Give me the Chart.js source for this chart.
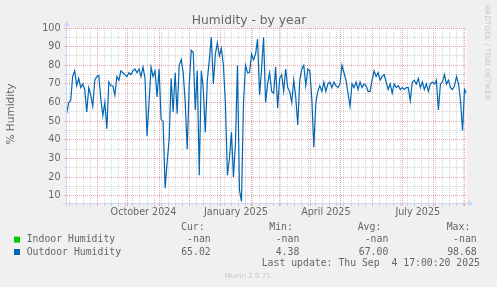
<!DOCTYPE html>
<html><head><meta charset="utf-8">
<script src="https://cdn.jsdelivr.net/npm/chart.js@4/dist/chart.umd.min.js"></script>
<style>html,body{margin:0;padding:0;background:#F0F0F0;overflow:hidden}canvas{display:block}</style>
</head><body>
<canvas id="c" width="497" height="287"></canvas>
<script>
// ---------- data ----------
const chartTitle = 'Humidity - by year';
const yAxisTitle = '% Humidity';
const seriesNames = ['Indoor Humidity', 'Outdoor Humidity'];
const seriesColors = ['#00CC00', '#0066B3'];
const firstSample = [2024, 7, 1];          // Aug 1 2024 (UTC, month 0-based)
const sampleStepDays = 2;
const indoor = [];                          // -nan: no data
const outdoor = [
54,60,61,74,77,69,73,68,70,67,55,68,64,58,72,74,74.5,62,53,60,
46,71,69,69,64,74,72,77,76,75,74,76,75,77,78,76,78,74,79,73,
42,60,79,74,77,63,78,51,50,14,28,40,73,55,76,54,80,83,76,60,
35,70,88,87,56,77,21,77,67,44,72,83,95,70,86,92,85,89,80,60,
21,30,44,20,38,80,13,7,60,80,76,76,86,83,86,94,64,78,95,60,
70,76,66,65,79,57,73,75,66,78,68,66,60,72,63,48,72,78,80,69,
78,77,62,36,60,66,69,66,71,66,70,71,68,71,69,68,70,80,76,72,
65,58,70,68,71,67,71,68,70,69,66,66,72,77,74,76,72,74,75,71,
67,70,65,70,68,69,67,68,67,68,68,61,71,72,70,73,68,71,67,70,
66,70,71,70,72,56,70,71,75,70,72,68,67,69,74,70,61,45,67,65
];
const yTickValues = [10,15,20,25,30,35,40,45,50,55,60,65,70,75,80,85,90,95,100];
const quarterLabels = ['October 2024', 'January 2025', 'April 2025', 'July 2025'];
const quarterMonths = [[2024, 9], [2025, 0], [2025, 3], [2025, 6]];
const legendHeaders = ['Cur:', 'Min:', 'Avg:', 'Max:'];
const indoorStats = ['-nan', '-nan', '-nan', '-nan'];
const outdoorStats = ['65.02', '4.38', '67.00', '98.68'];
const lastUpdate = 'Last update: Thu Sep  4 17:00:20 2025';
const footerText = 'Munin 2.0.75';
const sideText = 'RRDTOOL / TOBI OETIKER';

// ---------- time axis ----------
const DAY = 86400000;
const axisStart = Date.UTC(2024, 6, 31, 20, 24);
const axisSpanDays = 398.1;
const dayOf = t => (t - axisStart) / DAY;
const key = v => Math.round(v * 1000) / 1000;

const tickKinds = new Map();
function addTick(v, kind) {
  const k = key(v);
  if (k < 0 || k > axisSpanDays) return;
  if (!tickKinds.has(k) || kind === 'month') tickKinds.set(k, kind);
}
for (let y = 2024, m = 7; ; ) {
  const d = dayOf(Date.UTC(y, m, 1));
  if (d > axisSpanDays) break;
  addTick(d, 'month');
  m++; if (m > 11) { m = 0; y++; }
}
for (let t = Date.UTC(2024, 7, 4); dayOf(t) <= axisSpanDays; t += 7 * DAY) {
  if (!tickKinds.has(key(dayOf(t)))) addTick(dayOf(t), 'week');
}
quarterMonths.forEach(([y, m], i) => {
  const a = Date.UTC(y, m, 1), b = Date.UTC(y, m + 1, 1);
  addTick(dayOf((a + b) / 2), 'label:' + i);
});

const outdoorPoints = outdoor.map((v, i) => ({
  x: dayOf(Date.UTC(firstSample[0], firstSample[1], firstSample[2]) + i * sampleStepDays * DAY),
  y: v
}));

// ---------- styles ----------
const FONT_COL = '#666666';
const MGRID = 'rgba(222,79,79,0.5)';
const GRID = 'rgba(143,143,143,0.38)';
const AXIS_COL = '#CFD6F8';
const WATER = 'rgba(102,102,102,0.3)';
const PLOT = {left: 66.5, right: 466.5, top: 28, bottom: 203};
const X_AXIS_H = 20;

function xKindColor(v) {
  const k = tickKinds.get(v);
  if (k === 'month') return MGRID;
  if (k === 'week') return GRID;
  return 'rgba(0,0,0,0)';
}

Chart.defaults.font.family = 'DejaVu Sans';

const muninPlugin = {
  id: 'munin',
  beforeDraw(chart) {
    const c = chart.ctx, a = chart.chartArea;
    c.save();
    c.fillStyle = '#F0F0F0';
    c.fillRect(0, 0, chart.width, chart.height);
    c.fillStyle = '#FFFFFF';
    c.fillRect(a.left, a.top, a.right - a.left, a.bottom - a.top);
    c.restore();
  },
  afterDraw(chart) {
    const c = chart.ctx, a = chart.chartArea;
    c.save();
    // axes
    c.strokeStyle = AXIS_COL; c.lineWidth = 1;
    c.beginPath();
    c.moveTo(a.left - 4, a.bottom + 0.5); c.lineTo(a.right + 4, a.bottom + 0.5);
    c.moveTo(a.left, a.bottom + 4); c.lineTo(a.left, a.top - 4);
    c.stroke();
    c.fillStyle = AXIS_COL;
    c.beginPath();
    c.moveTo(a.right + 2, a.bottom + 0.5 - 3); c.lineTo(a.right + 2, a.bottom + 0.5 + 3); c.lineTo(a.right + 7, a.bottom + 0.5);
    c.closePath(); c.fill();
    c.beginPath();
    c.moveTo(a.left - 3, a.top - 2); c.lineTo(a.left + 3, a.top - 2); c.lineTo(a.left, a.top - 7);
    c.closePath(); c.fill();

    // title
    c.fillStyle = FONT_COL;
    c.font = '12.3px "DejaVu Sans"';
    c.textAlign = 'center'; c.textBaseline = 'alphabetic';
    c.fillText(chartTitle, 249, 23.5);

    // y title
    c.save();
    c.translate(11, 114);
    c.rotate(-Math.PI / 2);
    c.font = '10.5px "DejaVu Sans"';
    c.textBaseline = 'middle';
    c.fillText(yAxisTitle, 0, 0);
    c.restore();

    // side watermark
    c.save();
    c.translate(487.3, 52.5);
    c.rotate(Math.PI / 2);
    c.fillStyle = WATER;
    c.font = '7.4px "DejaVu Sans"';
    c.textAlign = 'center'; c.textBaseline = 'middle';
    c.fillText(sideText, 0, 0);
    c.restore();

    // legend
    c.font = '9.8px "DejaVu Sans Mono"';
    c.textBaseline = 'middle';
    c.fillStyle = FONT_COL;
    c.textAlign = 'left';
    const headerX = [181, 269.3, 357.7, 446.7];
    legendHeaders.forEach((h, i) => c.fillText(h, headerX[i], 227.3));
    const valRight = [210.7, 299.3, 388.3, 476.7];
    const rows = [[indoorStats, 239.6], [outdoorStats, 252]];
    rows.forEach(([stats, y], r) => {
      c.fillStyle = seriesColors[r];
      c.fillRect(14, y - 3, 6, 6);
      c.fillStyle = FONT_COL;
      c.textAlign = 'left';
      c.fillText(seriesNames[r], 26.7, y);
      c.textAlign = 'right';
      stats.forEach((s, i) => c.fillText(s, valRight[i], y));
    });
    c.textAlign = 'left';
    c.fillText(lastUpdate, 261.7, 263.6);

    c.fillStyle = WATER;
    c.font = '7px "DejaVu Sans"';
    c.textAlign = 'center';
    c.fillText(footerText, 247.7, 276);
    c.restore();
  }
};

new Chart(document.getElementById('c'), {
  type: 'line',
  data: {
    datasets: [
      {label: seriesNames[0], data: indoor, borderColor: seriesColors[0], borderWidth: 1.2, pointRadius: 0},
      {label: seriesNames[1], data: outdoorPoints, borderColor: seriesColors[1], borderWidth: 1.2,
       pointRadius: 0, tension: 0, fill: false}
    ]
  },
  options: {
    responsive: false,
    animation: false,
    events: [],
    layout: {padding: {left: 0, top: PLOT.top, right: 497 - PLOT.right, bottom: 287 - PLOT.bottom - X_AXIS_H}},
    plugins: {legend: {display: false}, title: {display: false}, tooltip: {enabled: false}},
    scales: {
      x: {
        type: 'linear',
        min: 0, max: axisSpanDays,
        afterFit: s => { s.height = X_AXIS_H; },
        afterBuildTicks: axis => {
          axis.ticks = [...tickKinds.keys()].sort((p, q) => p - q).map(v => ({value: v}));
        },
        grid: {
          color: ctx => ctx.tick ? xKindColor(ctx.tick.value) : 'rgba(0,0,0,0)',
          tickColor: ctx => ctx.tick ? xKindColor(ctx.tick.value) : 'rgba(0,0,0,0)',
          lineWidth: 1, tickLength: 3, drawTicks: true
        },
        border: {display: false, dash: [1, 1]},
        ticks: {
          autoSkip: false, maxRotation: 0, minRotation: 0, padding: 1,
          color: FONT_COL, font: {size: 9.6, family: 'DejaVu Sans'},
          callback: v => {
            const k = tickKinds.get(v);
            return (k && k.startsWith('label:')) ? quarterLabels[+k.slice(6)] : '';
          }
        }
      },
      y: {
        type: 'linear',
        min: 6.1, max: 100,
        afterFit: s => { s.width = PLOT.left; },
        afterBuildTicks: axis => { axis.ticks = yTickValues.map(v => ({value: v})); },
        grid: {
          color: ctx => ctx.tick ? (ctx.tick.value % 10 === 0 ? MGRID : GRID) : 'rgba(0,0,0,0)',
          tickColor: ctx => ctx.tick ? (ctx.tick.value % 10 === 0 ? MGRID : GRID) : 'rgba(0,0,0,0)',
          lineWidth: 1, tickLength: 2
        },
        border: {display: false, dash: [1, 1]},
        ticks: {
          autoSkip: false, padding: 4,
          color: FONT_COL, font: {size: 9.6, family: 'DejaVu Sans'},
          callback: v => (v % 10 === 0 ? String(v) : '')
        }
      }
    }
  },
  plugins: [muninPlugin]
});
</script>
</body></html>
